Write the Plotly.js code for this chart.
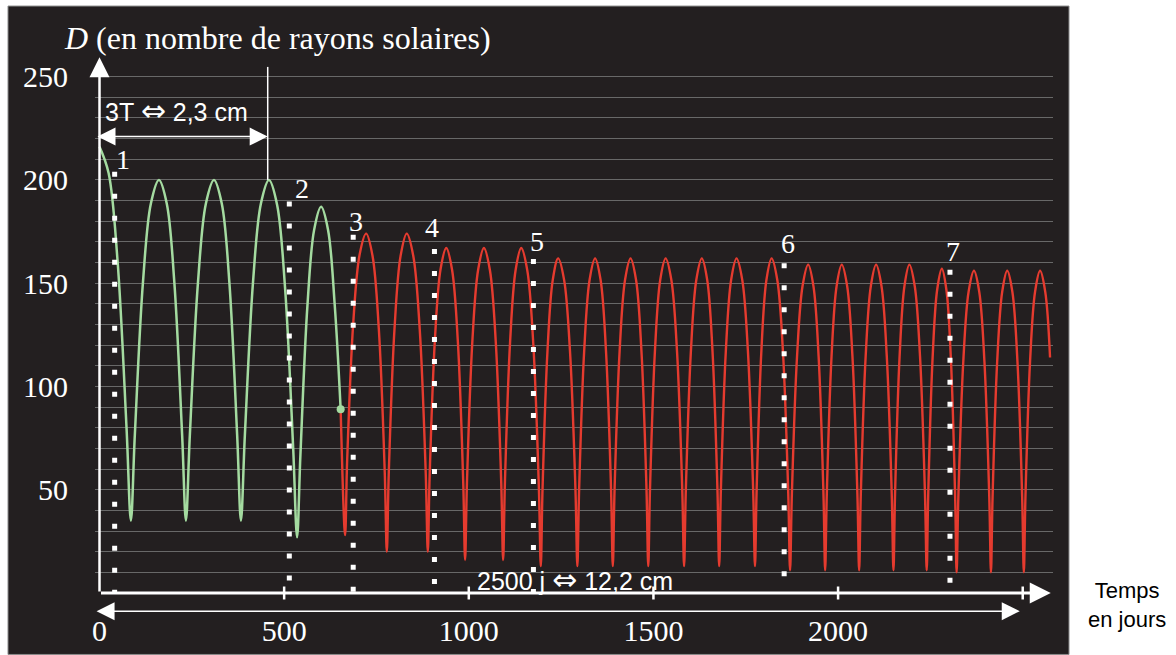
<!DOCTYPE html>
<html>
<head>
<meta charset="utf-8">
<script src="https://cdn.plot.ly/plotly-3.0.1.min.js"></script>
<style>
html,body{margin:0;padding:0;background:#ffffff;}
#chart{width:1176px;height:655px;}
</style>
</head>
<body>
<div id="chart"></div>
<script>
// ---------- DATA ----------
// Green part of the curve: time in days, D in solar radii
var greenDays = [0, 24.6, 48.5, 73.1, 85,
  95.6, 117.7, 139, 161,
  182.2, 202.6, 223.8, 234,
  244.6, 266.7, 288, 310,
  331.2, 351.6, 372.8, 383,
  393.6, 415.7, 437, 459,
  481, 502.3, 524.4, 535,
  544.1, 563, 581.2, 600,
  618.8, 637, 653];
var greenD = [216, 203.3, 161.7, 80.3, 35,
  76.3, 150.5, 188.5, 200,
  188.5, 150.5, 76.3, 35,
  76.3, 150.5, 188.5, 200,
  188.5, 150.5, 76.3, 35,
  76.3, 150.5, 188.5, 200,
  187.9, 148.1, 70.3, 27,
  67, 139, 175.8, 187,
  175.9, 139.3, 89];

// Red part of the curve
var redDays = [653, 665, 670.7, 686.9, 704.3, 722,
  739.4, 756.4, 772.4, 778,
  783.4, 798.8, 815.3, 832,
  849.7, 867.1, 883.3, 889,
  894, 908.3, 923.5, 939,
  954.8, 970.4, 984.9, 990,
  995.1, 1009.6, 1025.2, 1041,
  1057.1, 1073, 1087.8, 1093,
  1097.9, 1111.9, 1126.8, 1142,
  1158.4, 1174.6, 1189.7, 1195,
  1199.7, 1213.1, 1227.4, 1242,
  1258.1, 1274, 1288.8, 1294,
  1298.8, 1312.5, 1327.1, 1342,
  1356.9, 1371.5, 1385.2, 1390,
  1394.8, 1408.5, 1423.1, 1438,
  1452.9, 1467.5, 1481.2, 1486,
  1490.7, 1504.1, 1518.4, 1533,
  1548.5, 1563.8, 1578, 1583,
  1587.8, 1601.5, 1616.1, 1631,
  1645.6, 1659.9, 1673.3, 1678,
  1682.7, 1696.1, 1710.4, 1725,
  1740.5, 1755.8, 1770, 1775,
  1779.5, 1792.3, 1806, 1820,
  1835.5, 1850.8, 1865, 1870,
  1874.9, 1888.9, 1903.8, 1919,
  1933.3, 1947.3, 1960.4, 1965,
  1969.5, 1982.3, 1996, 2010,
  2024.6, 2038.9, 2052.3, 2057,
  2061.6, 2074.7, 2088.7, 2103,
  2117.6, 2131.9, 2145.3, 2150,
  2154.3, 2166.6, 2179.7, 2193,
  2207.6, 2221.9, 2235.3, 2240,
  2244.1, 2255.8, 2268.3, 2281,
  2293.4, 2305.6, 2317, 2321,
  2325.7, 2339.1, 2353.4, 2368,
  2382.3, 2396.3, 2409.4, 2414,
  2418.4, 2430.9, 2444.4, 2458,
  2472, 2485.7, 2498.5, 2503,
  2507.4, 2519.9, 2533.4, 2547,
  2561, 2574];
var redD = [89, 28, 64.5, 130.2, 163.8, 174,
  163.2, 127.8, 58.5, 20,
  58.5, 127.8, 163.2, 174,
  163.2, 127.8, 58.5, 20,
  56.8, 122.9, 156.7, 167,
  156.4, 121.7, 53.8, 16,
  53.8, 121.7, 156.4, 167,
  156.4, 121.7, 53.8, 16,
  53.8, 121.7, 156.4, 167,
  156.2, 120.8, 51.5, 13,
  50.3, 117.3, 151.6, 162,
  151.6, 117.3, 50.3, 13,
  50.3, 117.3, 151.6, 162,
  151.6, 117.3, 50.3, 13,
  50.3, 117.3, 151.6, 162,
  151.6, 117.3, 50.3, 13,
  50.3, 117.3, 151.6, 162,
  151.6, 117.3, 50.3, 13,
  50.3, 117.3, 151.6, 162,
  151.6, 117.3, 50.3, 13,
  50.3, 117.3, 151.6, 162,
  151.6, 117.3, 50.3, 13,
  50.3, 117.3, 151.6, 162,
  151.4, 116.7, 48.8, 11,
  48, 114.6, 148.6, 159,
  148.6, 114.6, 48, 11,
  48, 114.6, 148.6, 159,
  148.6, 114.6, 48, 11,
  48, 114.6, 148.6, 159,
  148.6, 114.6, 48, 11,
  48, 114.6, 148.6, 159,
  148.6, 114.6, 48, 11,
  47.5, 113.2, 146.8, 157,
  146.7, 112.9, 46.8, 10,
  46.5, 112.2, 145.8, 156,
  145.8, 112.2, 46.5, 10,
  46.5, 112.2, 145.8, 156,
  145.8, 112.2, 46.5, 10,
  46.5, 112.2, 145.8, 156,
  145.8, 114];

// Dotted vertical markers 1..7
var markNames = ['1', '2', '3', '4', '5', '6', '7'];
var markDays = [41, 514, 687, 907, 1175, 1854, 2303];
var markTopD = [204, 189.5, 173.4, 166.5, 161.7, 159.7, 156.5];
var markLabelDays = [63, 547, 695, 900, 1184, 1865, 2312];
var markLabelD = [210, 196, 180, 177, 170, 169, 165.4];

// Axis ticks and labels
var xTickVals = [0, 500, 1000, 1500, 2000];
var xTickText = ['0', '500', '1000', '1500', '2000'];
var xAxisMarks = [500, 1000, 1500, 2000, 2500];
var yTickVals = [50, 100, 150, 200, 250];
var yTickText = ['50', '100', '150', '200', '250'];

// Measurement annotations
var threeTStart = -9.5, threeTEnd = 455.5, threeTLevel = 221, threeTTop = 254.7, threeTBottom = 200;
var spanStart = -12, spanEnd = 2492;
var axisXEnd = 2576, axisYEnd = 259.4;

// ---------- LAYOUT GEOMETRY ----------
var W = 1176, H = 655;
var L = 95, R = 1053, T = 57, B = 593.5;
function pxX(p) { return (p - L) / (R - L); }
function pxY(p) { return (B - p) / (B - T); }

var serif = 'Liberation Serif, Times New Roman, serif';
var sans = 'Liberation Sans, Arial, sans-serif';
var bigArrow = '<span style="font-family:DejaVu Sans;font-size:30px">\u21D4</span>';

var traces = [
  {x: greenDays, y: greenD, type: 'scatter', mode: 'lines',
   line: {color: '#a4dba0', width: 2.5, shape: 'spline', smoothing: 1}, hoverinfo: 'skip'},
  {x: redDays, y: redD, type: 'scatter', mode: 'lines',
   line: {color: '#e53b2f', width: 2.4, shape: 'spline', smoothing: 1}, hoverinfo: 'skip'},
  {x: [greenDays[greenDays.length - 1]], y: [greenD[greenD.length - 1]], type: 'scatter', mode: 'markers',
   marker: {color: '#a4dba0', size: 8}, hoverinfo: 'skip'}
];

var shapes = [];
// dark panel
shapes.push({type: 'rect', xref: 'paper', yref: 'paper', layer: 'below',
  x0: pxX(8), x1: pxX(1069), y0: pxY(655), y1: pxY(6),
  fillcolor: '#231f20', line: {color: '#8a8a8a', width: 1}});
// dotted markers
for (var i = 0; i < markDays.length; i++) {
  shapes.push({type: 'line', xref: 'x', yref: 'y', x0: markDays[i], x1: markDays[i], y0: markTopD[i], y1: 0,
    line: {color: '#ffffff', width: 5, dash: '5px,17px'}});
}
// vertical line for 3T
shapes.push({type: 'line', xref: 'x', yref: 'y', x0: threeTEnd, x1: threeTEnd, y0: threeTBottom, y1: threeTTop,
  line: {color: '#ffffff', width: 1.5}});
// tick marks on the time axis
for (var k = 0; k < xAxisMarks.length; k++) {
  shapes.push({type: 'line', xref: 'x', yref: 'paper', x0: xAxisMarks[k], x1: xAxisMarks[k],
    y0: pxY(587), y1: pxY(600), line: {color: '#ffffff', width: 2.5}});
}

var annotations = [];
// title
annotations.push({xref: 'paper', yref: 'paper', x: pxX(62), y: pxY(38), xanchor: 'left', yanchor: 'middle',
  text: '<i>D</i> (en nombre de rayons solaires)', showarrow: false,
  font: {family: serif, size: 32, color: '#ffffff'}});
// y axis arrow
annotations.push({xref: 'x', yref: 'y', x: 0, y: axisYEnd, axref: 'x', ayref: 'y', ax: 0, ay: 0,
  text: '', showarrow: true, arrowhead: 2, arrowsize: 1.6, arrowwidth: 2.5, arrowcolor: '#ffffff'});
// x axis arrow
annotations.push({xref: 'x', yref: 'y', x: axisXEnd, y: 0, axref: 'x', ayref: 'y', ax: 0, ay: 0,
  text: '', showarrow: true, arrowhead: 2, arrowsize: 1.4, arrowwidth: 3, arrowcolor: '#ffffff'});
// 3T double arrow
annotations.push({xref: 'x', yref: 'y', x: threeTEnd, y: threeTLevel, axref: 'x', ayref: 'y', ax: threeTStart, ay: threeTLevel,
  text: '', showarrow: true, arrowside: 'end+start', arrowhead: 2, startarrowhead: 2,
  arrowsize: 2.4, startarrowsize: 2.4, arrowwidth: 1.5, arrowcolor: '#ffffff'});
annotations.push({xref: 'x', yref: 'y', x: 9.5, y: 233.6, xanchor: 'left', yanchor: 'middle',
  text: '3T ' + bigArrow + ' 2,3 cm', showarrow: false, font: {family: sans, size: 25, color: '#ffffff'}});
// 2500 days double arrow
annotations.push({xref: 'x', yref: 'paper', x: spanEnd, y: pxY(611.7), axref: 'x', ayref: 'pixel', ax: spanStart, ay: 0,
  text: '', showarrow: true, arrowside: 'end+start', arrowhead: 2, startarrowhead: 2,
  arrowsize: 2.4, startarrowsize: 2.4, arrowwidth: 1.5, arrowcolor: '#ffffff'});
annotations.push({xref: 'x', yref: 'y', x: 1017, y: 6.5, xanchor: 'left', yanchor: 'middle',
  text: '2500 j ' + bigArrow + ' 12,2 cm', showarrow: false, font: {family: sans, size: 25, color: '#ffffff'}});
// marker labels
for (var j = 0; j < markNames.length; j++) {
  annotations.push({xref: 'x', yref: 'y', x: markLabelDays[j], y: markLabelD[j], text: markNames[j],
    showarrow: false, xanchor: 'center', yanchor: 'middle', font: {family: serif, size: 28, color: '#ffffff'}});
}
// axis name on the right
annotations.push({xref: 'paper', yref: 'paper', x: pxX(1127), y: pxY(606), xanchor: 'center', yanchor: 'middle',
  text: 'Temps<br>en jours', showarrow: false, align: 'center',
  font: {family: sans, size: 22, color: '#000000'}});

var layout = {
  width: W, height: H,
  margin: {l: L, r: W - R, t: T, b: H - B, pad: 0},
  paper_bgcolor: '#ffffff',
  plot_bgcolor: 'rgba(0,0,0,0)',
  showlegend: false,
  xaxis: {
    range: [-12.2, 2582], showgrid: false, zeroline: false, showline: false,
    tickmode: 'array', tickvals: xTickVals, ticktext: xTickText,
    ticks: 'outside', ticklen: 11, tickcolor: 'rgba(0,0,0,0)',
    tickfont: {family: serif, size: 30, color: '#ffffff'}
  },
  yaxis: {
    range: [0, 259.5], zeroline: false, showline: false,
    tickmode: 'array', tickvals: yTickVals, ticktext: yTickText,
    showgrid: true, gridcolor: '#686868', gridwidth: 1,
    minor: {dtick: 10, tick0: 0, showgrid: true, gridcolor: '#686868', gridwidth: 1, ticks: ''},
    ticks: 'outside', ticklen: 20, tickcolor: 'rgba(0,0,0,0)',
    tickfont: {family: serif, size: 30, color: '#ffffff'}
  },
  shapes: shapes,
  annotations: annotations
};

Plotly.newPlot('chart', traces, layout, {staticPlot: true, displayModeBar: false});
</script>
</body>
</html>
